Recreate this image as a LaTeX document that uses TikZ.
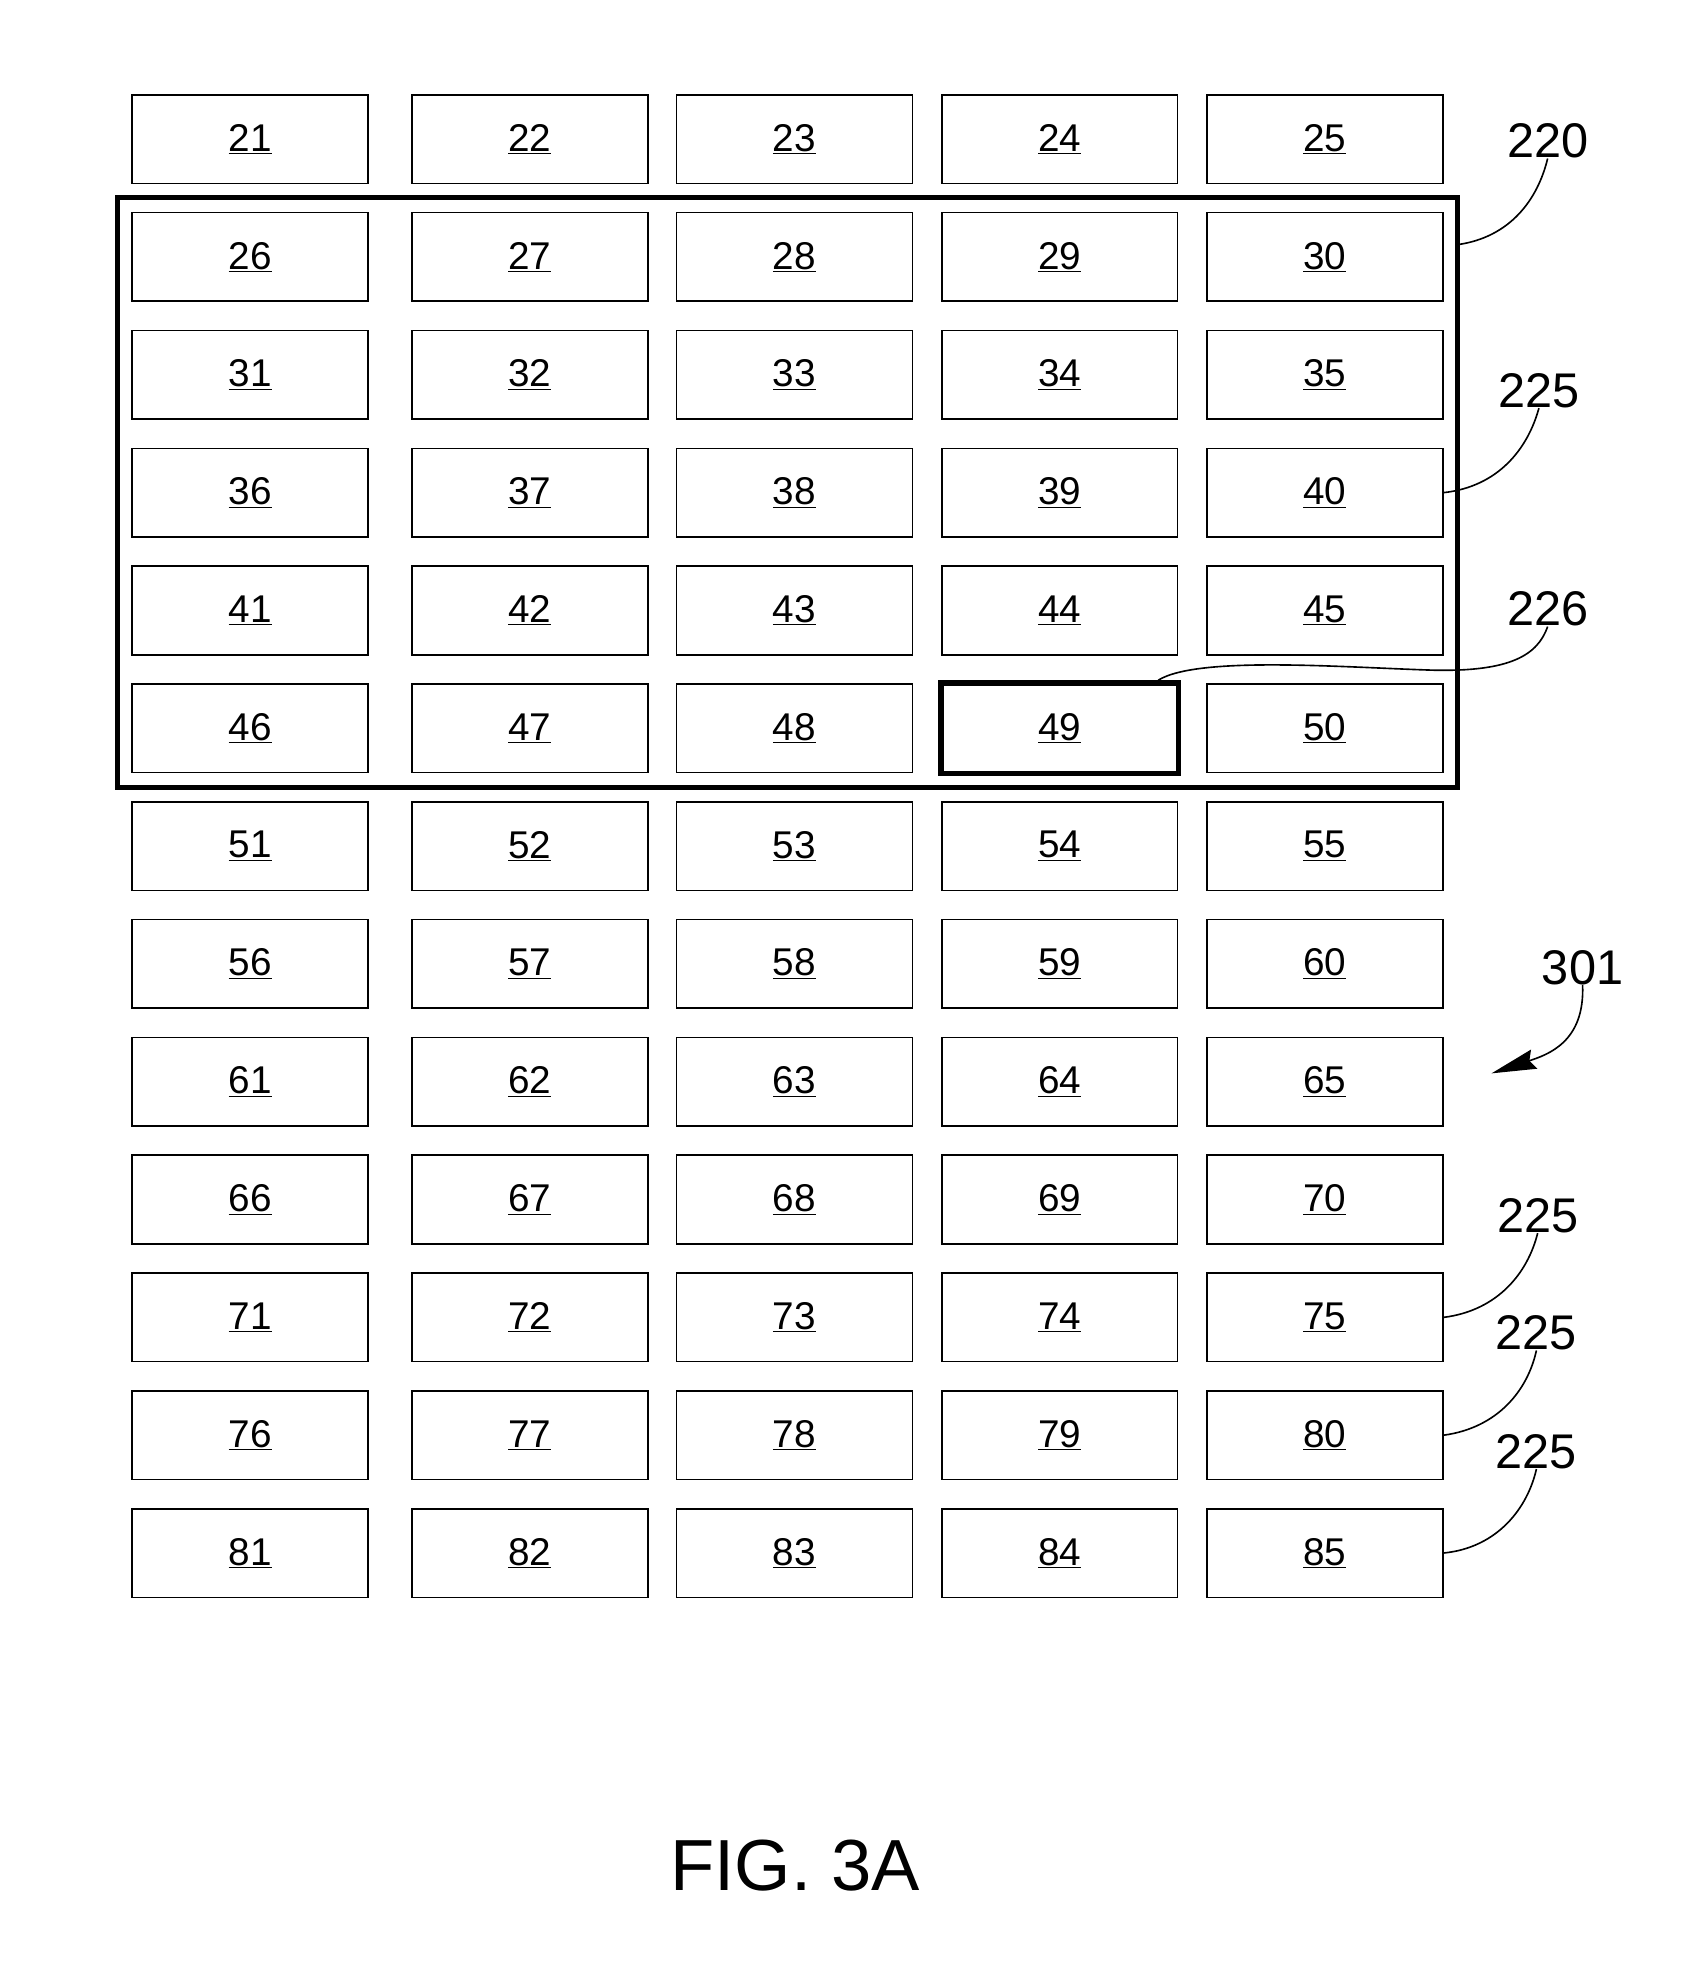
\documentclass[tikz,border=0pt]{standalone}
\usepackage{fontspec}
\setmainfont{Liberation Sans}
\usetikzlibrary{arrows.meta}
\begin{document}
\begin{tikzpicture}[x=1pt,y=-1pt,
  cell/.style={draw,line width=1.3pt,minimum width=189pt,minimum height=71pt,inner sep=0pt,font=\fontsize{31}{31}\selectfont},
  lbl/.style={font=\fontsize{39}{39}\selectfont,inner sep=0pt},
  lead/.style={line width=1.3pt}]
\useasboundingbox (0,0) rectangle (1360,1572);
\foreach \c/\x in {1/200.5,2/424.5,3/636.5,4/849,5/1061.5}{
  \foreach \r in {0,...,12}{
    \pgfmathtruncatemacro{\n}{21+5*\r+\c-1}
    \node[cell] (b\n) at (\x,{111.5+94.4*\r}) {\underline{\n}};
  }
}
\draw[line width=4pt] (94,158) rectangle (1168,631);
\draw[line width=4.5pt] (b49.north west) rectangle (b49.south east);
\node[lbl] (l220) at (1240,113) {220};
\node[lbl] (l225a) at (1233,313) {225};
\node[lbl] (l226) at (1240,488) {226};
\node[lbl] (l301) at (1268,775) {301};
\node[lbl] (l225b) at (1232,974) {225};
\node[lbl] (l225c) at (1231,1068) {225};
\node[lbl] (l225d) at (1231,1163) {225};
\draw[lead] (1168,196) .. controls (1210,190) and (1232,160) .. (l220.south);
\draw[lead] (b40.east) .. controls (1200,390) and (1224,360) .. (l225a.south);
\draw[lead] (928,545) .. controls (960,525) and (1080,535) .. (1150,537) .. controls (1210,538) and (1232,525) .. (l226.south);
\draw[lead,-{Stealth[length=36pt,width=16pt,inset=4pt]}] (l301.south) .. controls (1270,835) and (1240,845) .. (1195,860);
\draw[lead] (b75.east) .. controls (1200,1050) and (1224,1020) .. (l225b.south);
\draw[lead] (b80.east) .. controls (1200,1144) and (1224,1114) .. (l225c.south);
\draw[lead] (b85.east) .. controls (1200,1240) and (1224,1208) .. (l225d.south);
\node[font=\fontsize{58}{58}\selectfont] (fig) at (637,1495) {FIG. 3A};
\end{tikzpicture}
\end{document}
